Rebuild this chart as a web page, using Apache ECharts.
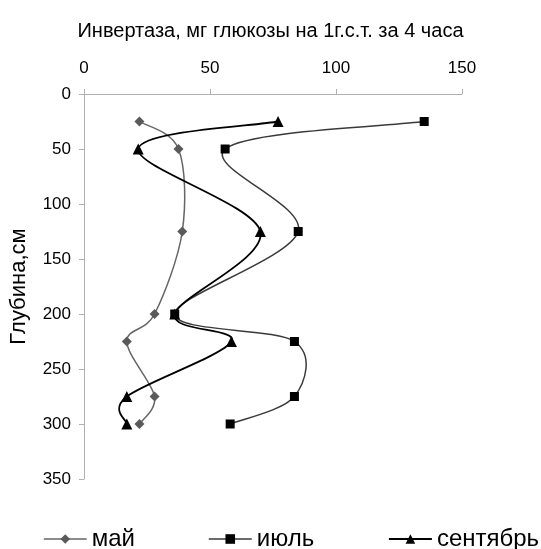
<!DOCTYPE html>
<html>
<head>
<meta charset="utf-8">
<script src="https://cdn.jsdelivr.net/npm/echarts@6/dist/echarts.min.js"></script>
<style>
  html, body { margin: 0; padding: 0; background: #fff; }
  #chart { width: 541px; height: 549px; }
</style>
</head>
<body>
<div id="chart"></div>
<script>
// глубина, см
var depths = [25, 50, 125, 200, 225, 275, 300];
// инвертаза по месяцам
var may = [22, 37.5, 39, 28, 17, 28, 22];
var july = [135, 56, 85, 36, 83.5, 83.5, 58];
var september = [77, 21.5, 70, 36, 58.5, 17, 17];

var months = ['май', 'июль', 'сентябрь'];
var xTicks = [0, 50, 100, 150];
var yTicks = [0, 350];

function pairs(vals) {
	var out = [];
	for (var i = 0; i < vals.length; i++) {
		out.push([vals[i], depths[i]]);
	}
	return out;
}

// сглаженная кривая как в Excel (Catmull-Rom -> bezier), через api.coord
function curve(vals, color, width) {
	return function(params, api) {
		var i = params.dataIndex;
		if (i >= vals.length - 1) return null;
		var p = function(k) {
			k = Math.max(0, Math.min(vals.length - 1, k));
			return api.coord([vals[k], depths[k]]);
		};
		var p0 = p(i - 1), p1 = p(i), p2 = p(i + 1), p3 = p(i + 2);
		var t = 1 / 6;
		return {
			type: 'bezierCurve',
			shape: {
				x1: p1[0], y1: p1[1],
				x2: p2[0], y2: p2[1],
				cpx1: p1[0] + (p2[0] - p0[0]) * t,
				cpy1: p1[1] + (p2[1] - p0[1]) * t,
				cpx2: p2[0] - (p3[0] - p1[0]) * t,
				cpy2: p2[1] - (p3[1] - p1[1]) * t
			},
			style: { stroke: color, lineWidth: width, fill: null }
		};
	};
}

var myChart = echarts.init(document.getElementById('chart'));
var fontName = 'Liberation Sans, Arial, sans-serif';

var lineColors = ['#666', '#3a3a3a', '#000'];
var lineWidths = [1.5, 1.5, 1.8];
var markColors = ['#5a5a5a', '#000', '#000'];
var legendLeft = [38, 203, 383];

var legends = [];
for (var m = 0; m < months.length; m++) {
	legends.push({
		left: legendLeft[m],
		top: 522,
		itemWidth: 43,
		itemHeight: 12,
		selectedMode: false,
		lineStyle: { color: lineColors[m], width: lineWidths[m], opacity: 1 },
		textStyle: { fontSize: 24, color: '#000', fontFamily: fontName },
		data: [months[m]]
	});
}

var option = {
	animation: false,
	textStyle: { fontFamily: fontName },
	title: {
		text: 'Инвертаза, мг глюкозы на 1г.с.т. за 4 часа',
		left: 'center',
		top: 16,
		textStyle: { fontSize: 20, fontWeight: 'normal', color: '#000', fontFamily: fontName }
	},
	legend: legends,
	grid: { left: 82, right: 79, top: 94, bottom: 70 },
	xAxis: {
		type: 'value',
		position: 'top',
		min: xTicks[0],
		max: xTicks[xTicks.length - 1],
		interval: 50,
		axisLine: { show: true, lineStyle: { color: '#b0b0b0' } },
		axisTick: { show: true, length: 5, lineStyle: { color: '#b0b0b0' } },
		axisLabel: { fontSize: 17, color: '#000', margin: 17, fontFamily: fontName },
		splitLine: { show: false }
	},
	yAxis: {
		type: 'value',
		inverse: true,
		min: yTicks[0],
		max: yTicks[1],
		interval: 50,
		name: 'Глубина,см',
		nameLocation: 'middle',
		nameGap: 54,
		nameTextStyle: { fontSize: 22, color: '#000', fontFamily: fontName },
		axisLine: { show: true, lineStyle: { color: '#b0b0b0' } },
		axisTick: { show: true, length: 5, lineStyle: { color: '#b0b0b0' } },
		axisLabel: { fontSize: 17, color: '#000', margin: 13, fontFamily: fontName },
		splitLine: { show: false }
	},
	series: [
		{
			name: 'май', type: 'line', data: pairs(may), z: 3,
			symbol: 'diamond', symbolSize: 10,
			lineStyle: { width: 0, opacity: 0 },
			itemStyle: { color: markColors[0] }
		},
		{
			name: 'июль', type: 'line', data: pairs(july), z: 3,
			symbol: 'rect', symbolSize: 9,
			lineStyle: { width: 0, opacity: 0 },
			itemStyle: { color: markColors[1] }
		},
		{
			name: 'сентябрь', type: 'line', data: pairs(september), z: 3,
			symbol: 'triangle', symbolSize: 11,
			lineStyle: { width: 0, opacity: 0 },
			itemStyle: { color: markColors[2] }
		},
		{ name: 'май-кривая', type: 'custom', z: 2, data: pairs(may), renderItem: curve(may, lineColors[0], lineWidths[0]) },
		{ name: 'июль-кривая', type: 'custom', z: 2, data: pairs(july), renderItem: curve(july, lineColors[1], lineWidths[1]) },
		{ name: 'сентябрь-кривая', type: 'custom', z: 2, data: pairs(september), renderItem: curve(september, lineColors[2], lineWidths[2]) }
	]
};

myChart.setOption(option);
</script>
</body>
</html>
